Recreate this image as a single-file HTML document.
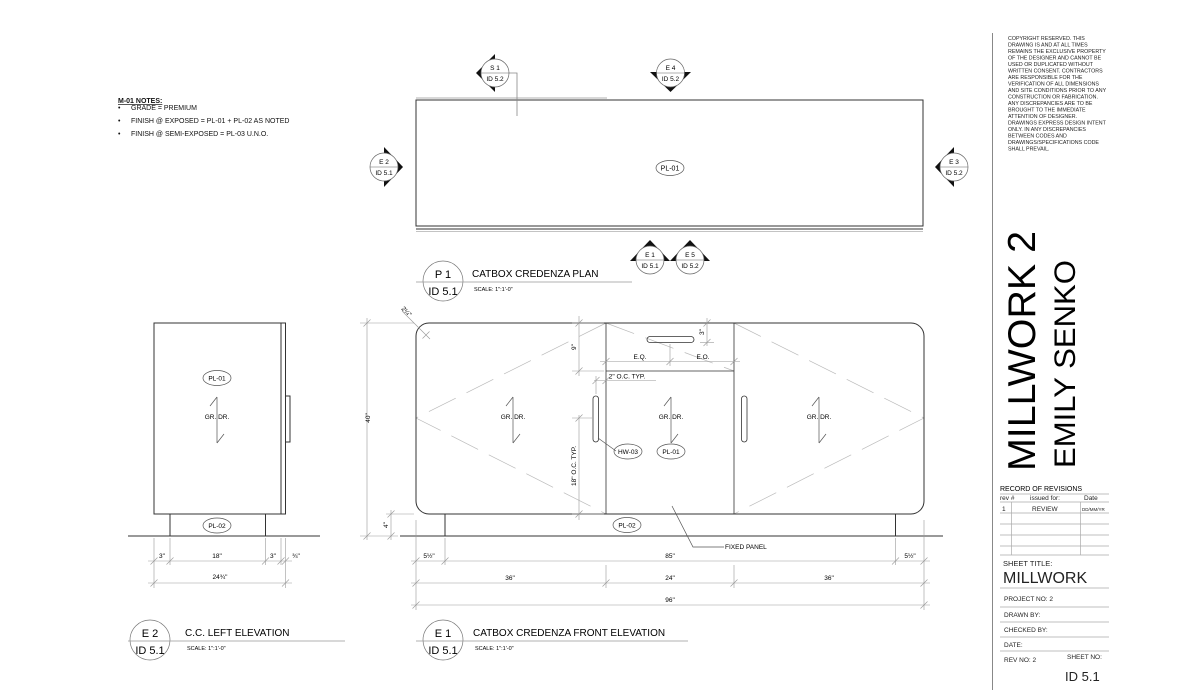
<!DOCTYPE html>
<html><head><meta charset="utf-8"><style>
html,body{margin:0;padding:0;background:#fff;}
svg{display:block;font-family:"Liberation Sans",Arial,sans-serif;}
</style></head><body>
<svg width="1200" height="700" viewBox="0 0 1200 700" xmlns="http://www.w3.org/2000/svg">
<defs>
<g id="tick"><line x1="-3.5" y1="3.5" x2="3.5" y2="-3.5" stroke="#999" stroke-width="0.6"/></g>
</defs>

<!-- NOTES -->
<g font-size="7" fill="#111">
<text x="118" y="103" font-weight="bold" text-decoration="underline">M-01 NOTES:</text>
<text x="118" y="110">•</text><text x="131" y="110">GRADE = PREMIUM</text>
<text x="118" y="123">•</text><text x="131" y="123">FINISH @ EXPOSED = PL-01 + PL-02 AS NOTED</text>
<text x="118" y="136">•</text><text x="131" y="136">FINISH @ SEMI-EXPOSED = PL-03 U.N.O.</text>
</g>

<!-- PLAN -->
<line x1="416" y1="98" x2="607" y2="98" stroke="#999" stroke-width="0.8"/>
<rect x="416" y="100" width="507" height="126" fill="none" stroke="#333" stroke-width="1"/>
<line x1="416" y1="229" x2="923" y2="229" stroke="#333" stroke-width="1"/>
<line x1="416" y1="231.5" x2="923" y2="231.5" stroke="#888" stroke-width="0.6"/>
<polyline points="505,73 517,73 517,116" fill="none" stroke="#888" stroke-width="0.8"/>
<ellipse cx="670" cy="168" rx="14" ry="7.5" fill="none" stroke="#555" stroke-width="0.7"/>
<text x="670" y="170.5" font-size="7" text-anchor="middle">PL-01</text>

<!-- markers -->
<g font-size="6.5" text-anchor="middle">
 <polygon points="495,54 476,73 495,92" fill="#111"/>
 <circle cx="495" cy="73" r="14" fill="#fff" stroke="#666" stroke-width="0.7"/>
 <line x1="481" y1="73" x2="509" y2="73" stroke="#666" stroke-width="0.6"/>
 <text x="495" y="70">S 1</text><text x="495" y="81">ID 5.2</text>
 <polygon points="650,72 691,72 670.5,92" fill="#111"/>
 <circle cx="670.5" cy="73" r="14" fill="#fff" stroke="#666" stroke-width="0.7"/>
 <line x1="656.5" y1="73" x2="684.5" y2="73" stroke="#666" stroke-width="0.6"/>
 <text x="670.5" y="70">E 4</text><text x="670.5" y="81">ID 5.2</text>
 <polygon points="384,147 403,167 384,187" fill="#111"/>
 <circle cx="384" cy="167" r="14" fill="#fff" stroke="#666" stroke-width="0.7"/>
 <line x1="370" y1="167" x2="398" y2="167" stroke="#666" stroke-width="0.6"/>
 <text x="384" y="164">E 2</text><text x="384" y="175">ID 5.1</text>
 <polygon points="954,147 935,167 954,187" fill="#111"/>
 <circle cx="954" cy="167" r="14" fill="#fff" stroke="#666" stroke-width="0.7"/>
 <line x1="940" y1="167" x2="968" y2="167" stroke="#666" stroke-width="0.6"/>
 <text x="954" y="164">E 3</text><text x="954" y="175">ID 5.2</text>
 <polygon points="630,261 670,261 650,240" fill="#111"/>
 <circle cx="650" cy="260" r="14" fill="#fff" stroke="#666" stroke-width="0.7"/>
 <line x1="636" y1="260" x2="664" y2="260" stroke="#666" stroke-width="0.6"/>
 <text x="650" y="257">E 1</text><text x="650" y="268">ID 5.1</text>
 <polygon points="670,261 710,261 690,240" fill="#111"/>
 <circle cx="690" cy="260" r="14" fill="#fff" stroke="#666" stroke-width="0.7"/>
 <line x1="676" y1="260" x2="704" y2="260" stroke="#666" stroke-width="0.6"/>
 <text x="690" y="257">E 5</text><text x="690" y="268">ID 5.2</text>
</g>

<!-- Plan title -->
<ellipse cx="443" cy="281" rx="20" ry="20" fill="#fff" stroke="#777" stroke-width="0.7"/>
<line x1="416" y1="282" x2="632" y2="282" stroke="#999" stroke-width="0.8"/>
<text x="443" y="278" font-size="11" text-anchor="middle">P 1</text>
<text x="443" y="295" font-size="11" text-anchor="middle">ID 5.1</text>
<text x="472" y="277" font-size="10">CATBOX CREDENZA PLAN</text>
<text x="474" y="291" font-size="5.5">SCALE:  1":1'-0"</text>

<!-- LEFT ELEVATION -->
<rect x="154" y="323" width="127" height="191" fill="none" stroke="#333" stroke-width="1"/>
<rect x="281" y="323" width="4.5" height="191" fill="none" stroke="#333" stroke-width="1"/>
<rect x="285.5" y="396" width="4.5" height="46" fill="none" stroke="#333" stroke-width="1"/>
<rect x="170" y="514" width="95.5" height="22" fill="none" stroke="#333" stroke-width="1"/>
<line x1="128" y1="536" x2="320" y2="536" stroke="#333" stroke-width="1"/>
<g font-size="6.5" text-anchor="middle">
<ellipse cx="217" cy="378" rx="14" ry="7.5" fill="none" stroke="#555" stroke-width="0.7"/><text x="217" y="380.5">PL-01</text>
<text x="217" y="419">GR. DR.</text>
<ellipse cx="217" cy="525.5" rx="14" ry="7.5" fill="none" stroke="#555" stroke-width="0.7"/><text x="217" y="528">PL-02</text>
</g>
<path d="M217,397 V443 M217,397 L210,406 M217,443 L224,434" fill="none" stroke="#555" stroke-width="0.7"/>
<g stroke="#999" stroke-width="0.6">
<line x1="148" y1="561" x2="292" y2="561"/>
<line x1="148" y1="583" x2="292" y2="583"/>
<line x1="154" y1="538" x2="154" y2="588"/>
<line x1="170" y1="538" x2="170" y2="565"/>
<line x1="265.5" y1="538" x2="265.5" y2="565"/>
<line x1="281" y1="538" x2="281" y2="565"/>
<line x1="285.5" y1="538" x2="285.5" y2="588"/>
</g>
<use href="#tick" x="154" y="561"/><use href="#tick" x="170" y="561"/><use href="#tick" x="265.5" y="561"/><use href="#tick" x="281" y="561"/><use href="#tick" x="285.5" y="561"/>
<use href="#tick" x="154" y="583"/><use href="#tick" x="285.5" y="583"/>
<g font-size="6.5" text-anchor="middle">
<text x="162" y="558">3"</text><text x="217" y="558">18"</text><text x="273" y="558">3"</text><text x="296" y="558">¾"</text>
<text x="220" y="579">24¾"</text>
</g>
<ellipse cx="150" cy="640" rx="20" ry="20" fill="#fff" stroke="#777" stroke-width="0.7"/>
<line x1="128" y1="641" x2="345" y2="641" stroke="#999" stroke-width="0.8"/>
<text x="150" y="637" font-size="11" text-anchor="middle">E 2</text>
<text x="150" y="654" font-size="11" text-anchor="middle">ID 5.1</text>
<text x="185" y="636" font-size="10">C.C. LEFT ELEVATION</text>
<text x="187" y="650" font-size="5.5">SCALE:  1":1'-0"</text>

<!-- FRONT ELEVATION -->
<g stroke="#bbb" stroke-width="0.7" stroke-dasharray="30,12" fill="none">
<polyline points="606,323 416,418 606,514"/>
<polyline points="734,323 924,418 734,514"/>
<line x1="606" y1="323" x2="734" y2="371"/>
</g>
<rect x="416" y="323" width="508" height="191" rx="13" ry="13" fill="none" stroke="#333" stroke-width="1"/>
<line x1="606" y1="323" x2="606" y2="514" stroke="#333" stroke-width="0.8"/>
<line x1="734" y1="323" x2="734" y2="514" stroke="#333" stroke-width="0.8"/>
<line x1="606" y1="371" x2="734" y2="371" stroke="#333" stroke-width="0.8"/>
<rect x="647" y="336.5" width="47" height="6" rx="3" fill="none" stroke="#333" stroke-width="0.8"/>
<rect x="593" y="396" width="5.5" height="46" rx="2.7" fill="none" stroke="#333" stroke-width="0.8"/>
<rect x="741.5" y="396" width="5.5" height="46" rx="2.7" fill="none" stroke="#333" stroke-width="0.8"/>
<rect x="445" y="514" width="450.5" height="22" fill="none" stroke="#333" stroke-width="1"/>
<line x1="400" y1="536" x2="943" y2="536" stroke="#333" stroke-width="1"/>
<g font-size="6.5" text-anchor="middle">
<text x="513" y="419">GR. DR.</text><text x="671" y="419">GR. DR.</text><text x="819" y="419">GR. DR.</text>
<ellipse cx="628" cy="451.5" rx="14" ry="7.5" fill="#fff" stroke="#555" stroke-width="0.7"/><text x="628" y="454">HW-03</text>
<ellipse cx="671" cy="451.5" rx="14" ry="7.5" fill="none" stroke="#555" stroke-width="0.7"/><text x="671" y="454">PL-01</text>
<ellipse cx="627" cy="525" rx="14" ry="7.5" fill="none" stroke="#555" stroke-width="0.7"/><text x="627" y="527.5">PL-02</text>
</g>
<g fill="none" stroke="#555" stroke-width="0.7">
<path d="M513,397 V443 M513,397 L506,406 M513,443 L520,434"/>
<path d="M671,397 V443 M671,397 L664,406 M671,443 L678,434"/>
<path d="M819,397 V443 M819,397 L812,406 M819,443 L826,434"/>
<line x1="598" y1="438" x2="616" y2="451"/>
<polyline points="672,506 693,547 724,547"/>
</g>
<text x="725" y="549" font-size="6.5">FIXED PANEL</text>

<g stroke="#999" stroke-width="0.6" fill="none">
<line x1="360" y1="323" x2="414" y2="323"/>
<line x1="367" y1="318" x2="367" y2="540"/>
<line x1="360" y1="536" x2="398" y2="536"/>
<line x1="386" y1="514" x2="414" y2="514"/>
<line x1="391" y1="510" x2="391" y2="540"/>
<line x1="402" y1="311" x2="430" y2="339"/>
<line x1="579" y1="316" x2="579" y2="376"/>
<line x1="572" y1="323" x2="604" y2="323"/>
<line x1="572" y1="371" x2="604" y2="371"/>
<line x1="579" y1="415" x2="579" y2="520"/>
<line x1="572" y1="418" x2="592" y2="418"/>
<line x1="572" y1="514" x2="604" y2="514"/>
<line x1="707" y1="318" x2="707" y2="346"/>
<line x1="700" y1="342.5" x2="714" y2="342.5"/>
<line x1="600" y1="361.5" x2="740" y2="361.5"/>
<line x1="670" y1="344" x2="670" y2="366"/>
<line x1="594" y1="380.5" x2="656" y2="380.5"/>
<line x1="596" y1="376" x2="596" y2="394"/>
<line x1="411" y1="561" x2="930" y2="561"/>
<line x1="411" y1="583" x2="930" y2="583"/>
<line x1="411" y1="605" x2="930" y2="605"/>
<line x1="416" y1="520" x2="416" y2="610"/>
<line x1="924" y1="520" x2="924" y2="610"/>
<line x1="445" y1="538" x2="445" y2="565"/>
<line x1="895.5" y1="538" x2="895.5" y2="565"/>
<line x1="606" y1="565" x2="606" y2="588"/>
<line x1="734" y1="565" x2="734" y2="588"/>
</g>
<use href="#tick" x="367" y="323"/><use href="#tick" x="367" y="536"/><use href="#tick" x="391" y="514"/><use href="#tick" x="391" y="536"/>
<use href="#tick" x="426" y="335"/><use href="#tick" x="579" y="323"/><use href="#tick" x="579" y="371"/><use href="#tick" x="579" y="418"/><use href="#tick" x="579" y="514"/>
<use href="#tick" x="707" y="323"/><use href="#tick" x="707" y="342.5"/><use href="#tick" x="606" y="361.5"/><use href="#tick" x="670" y="361.5"/><use href="#tick" x="734" y="361.5"/>
<use href="#tick" x="596" y="380.5"/><use href="#tick" x="606" y="380.5"/>
<use href="#tick" x="416" y="561"/><use href="#tick" x="445" y="561"/><use href="#tick" x="895.5" y="561"/><use href="#tick" x="924" y="561"/>
<use href="#tick" x="416" y="583"/><use href="#tick" x="606" y="583"/><use href="#tick" x="734" y="583"/><use href="#tick" x="924" y="583"/>
<use href="#tick" x="416" y="605"/><use href="#tick" x="924" y="605"/>
<g font-size="6.5" text-anchor="middle">
<text transform="translate(370,418) rotate(-90)">40"</text>
<text transform="translate(388,525) rotate(-90)">4"</text>
<text transform="translate(576,347) rotate(-90)">9"</text>
<text transform="translate(576,466) rotate(-90)">18" O.C. TYP.</text>
<text transform="translate(704,332) rotate(-90)">3"</text>
<text transform="translate(405,313) rotate(45)">2¼"</text>
<text x="640" y="359">E.Q.</text><text x="703" y="359">E.O.</text>
<text x="627" y="378.5">2" O.C. TYP.</text>
<text x="429" y="558">5½"</text><text x="670" y="558">85"</text><text x="910" y="558">5½"</text>
<text x="510" y="580">36"</text><text x="670" y="580">24"</text><text x="829" y="580">36"</text>
<text x="670" y="602">96"</text>
</g>
<ellipse cx="443" cy="640" rx="20" ry="20" fill="#fff" stroke="#777" stroke-width="0.7"/>
<line x1="416" y1="641" x2="688" y2="641" stroke="#999" stroke-width="0.8"/>
<text x="443" y="637" font-size="11" text-anchor="middle">E 1</text>
<text x="443" y="654" font-size="11" text-anchor="middle">ID 5.1</text>
<text x="473" y="636" font-size="10">CATBOX CREDENZA FRONT ELEVATION</text>
<text x="475" y="650" font-size="5.5">SCALE:  1":1'-0"</text>

<!-- TITLE BLOCK -->
<line x1="992.5" y1="33" x2="992.5" y2="690" stroke="#888" stroke-width="1"/>
<g font-size="5.3" fill="#222">
<text x="1008" y="40">COPYRIGHT RESERVED.  THIS</text>
<text x="1008" y="46.5">DRAWING IS AND AT ALL TIMES</text>
<text x="1008" y="53">REMAINS THE EXCLUSIVE PROPERTY</text>
<text x="1008" y="59.5">OF THE DESIGNER AND CANNOT BE</text>
<text x="1008" y="66">USED OR DUPLICATED WITHOUT</text>
<text x="1008" y="72.5">WRITTEN CONSENT. CONTRACTORS</text>
<text x="1008" y="79">ARE RESPONSIBLE FOR THE</text>
<text x="1008" y="85.5">VERIFICATION OF ALL DIMENSIONS</text>
<text x="1008" y="92">AND SITE CONDITIONS PRIOR TO ANY</text>
<text x="1008" y="98.5">CONSTRUCTION OR FABRICATION.</text>
<text x="1008" y="105">ANY DISCREPANCIES ARE TO BE</text>
<text x="1008" y="111.5">BROUGHT TO THE IMMEDIATE</text>
<text x="1008" y="118">ATTENTION OF DESIGNER.</text>
<text x="1008" y="124.5">DRAWINGS EXPRESS DESIGN INTENT</text>
<text x="1008" y="131">ONLY. IN ANY DISCREPANCIES</text>
<text x="1008" y="137.5">BETWEEN CODES AND</text>
<text x="1008" y="144">DRAWINGS/SPECIFICATIONS CODE</text>
<text x="1008" y="150.5">SHALL PREVAIL.</text>
</g>
<text transform="translate(1035,471) rotate(-90)" font-size="38.5" textLength="240" lengthAdjust="spacingAndGlyphs">MILLWORK 2</text>
<text transform="translate(1075,468) rotate(-90)" font-size="30" textLength="208" lengthAdjust="spacingAndGlyphs">EMILY SENKO</text>
<text x="1000" y="491" font-size="7">RECORD OF REVISIONS</text>
<g stroke="#aaa" stroke-width="0.7">
<line x1="1000" y1="494" x2="1109" y2="494"/>
<line x1="1000" y1="502" x2="1109" y2="502"/>
<line x1="1000" y1="513" x2="1109" y2="513"/>
<line x1="1000" y1="524" x2="1109" y2="524"/>
<line x1="1000" y1="535" x2="1109" y2="535"/>
<line x1="1000" y1="546" x2="1109" y2="546"/>
<line x1="1011.5" y1="502" x2="1011.5" y2="555"/>
<line x1="1080.5" y1="502" x2="1080.5" y2="555"/>
<line x1="1000" y1="555" x2="1109" y2="555"/>
<line x1="1000" y1="588" x2="1109" y2="588"/>
<line x1="1000" y1="607" x2="1109" y2="607"/>
<line x1="1000" y1="622" x2="1109" y2="622"/>
<line x1="1000" y1="637" x2="1109" y2="637"/>
<line x1="1000" y1="651" x2="1109" y2="651"/>
</g>
<g font-size="6.5" fill="#222">
<text x="1000" y="500">rev #</text><text x="1030" y="500">issued for:</text><text x="1084" y="500">Date</text>
<text x="1002" y="511">1</text><text x="1032" y="511">REVIEW</text><text x="1082" y="511" font-size="4.5">DD/MM/YR</text>
<text x="1003" y="566" font-size="7.5">SHEET TITLE:</text>
<text x="1003" y="583" font-size="16">MILLWORK</text>
<text x="1004" y="601">PROJECT NO: 2</text>
<text x="1004" y="617">DRAWN BY:</text>
<text x="1004" y="632">CHECKED BY:</text>
<text x="1004" y="647">DATE:</text>
<text x="1004" y="662">REV NO:  2</text>
<text x="1067" y="659">SHEET NO:</text>
<text x="1065" y="681" font-size="13">ID 5.1</text>
</g>
</svg>
</body></html>
